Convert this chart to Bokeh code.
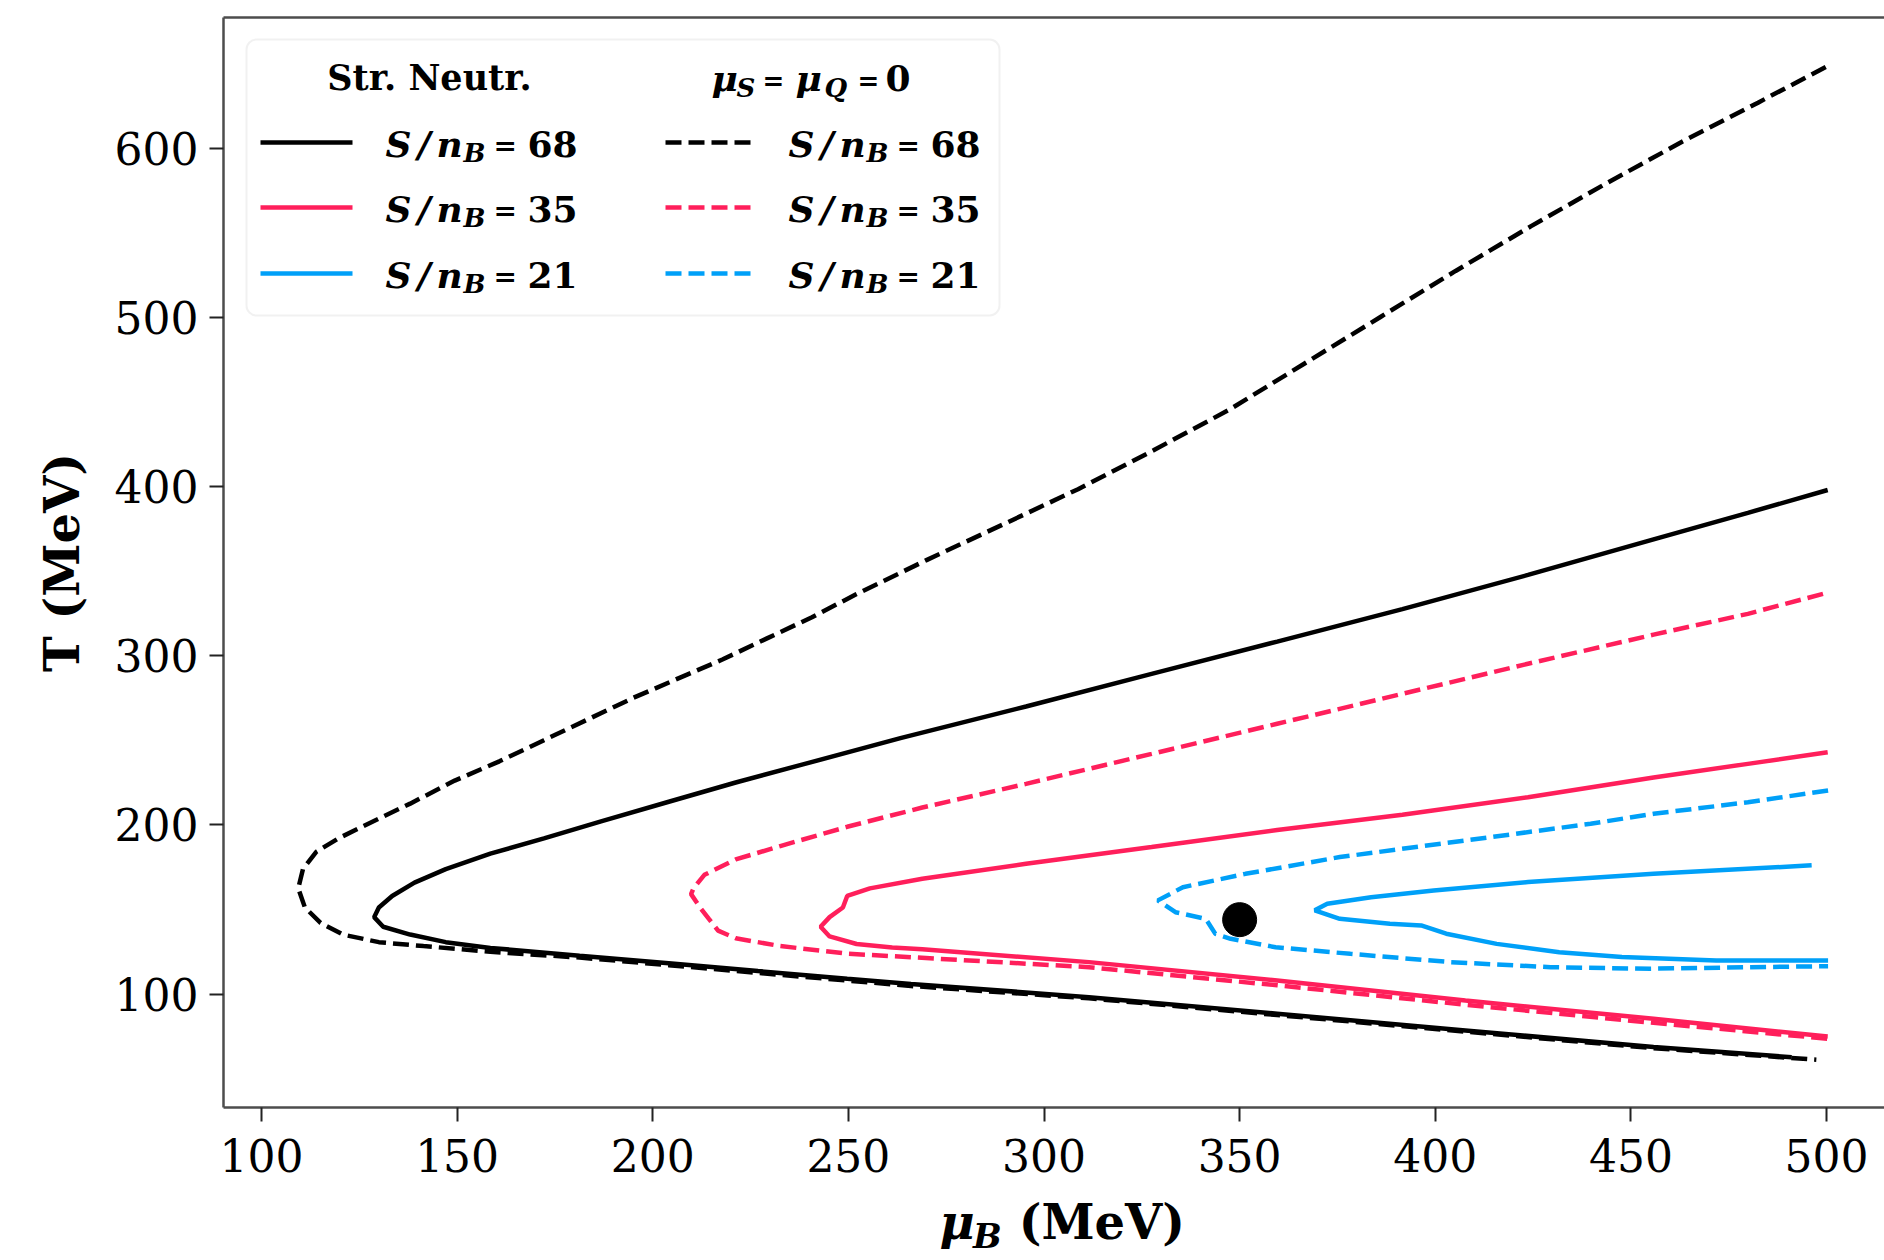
from bokeh.plotting import figure
from bokeh.layouts import column
from bokeh.models import Range1d, LinearAxis, FixedTicker, Label, Arrow, BoxAnnotation
from bokeh.embed import file_html
from bokeh.resources import INLINE

# ---------------- data ----------------
X_TICKS = [100, 150, 200, 250, 300, 350, 400, 450, 500]
Y_TICKS = [100, 200, 300, 400, 500, 600]

# Strangeness neutrality, S/nB = 68 (black solid)
sn68_mu = [500.3, 479.9, 455.8, 423.7, 391.6, 359.6, 327.5, 295.4, 263.3, 238.4, 221.2,
           204.1, 187.0, 172.2, 158.5, 147.1, 139.1, 133.4, 130.0, 128.8, 131.1, 138.0,
           147.1, 158.5, 181.3, 204.1, 226.9, 249.7, 266.0, 311.5, 359.6, 407.7, 455.8, 491.1]
sn68_T = [398.0, 384.5, 368.8, 347.8, 327.6, 308.4, 289.3, 270.0, 251.3, 235.8, 225.1,
          213.7, 202.3, 192.1, 183.0, 173.9, 165.9, 158.0, 151.2, 145.5, 139.8, 135.2,
          130.7, 127.3, 122.7, 118.2, 113.6, 109.1, 106.0, 98.2, 88.4, 78.5, 68.7, 62.7]

# muS = muQ = 0, S/nB = 68 (black dashed)
z68_mu = [499.8, 482.5, 463.2, 443.9, 424.5, 405.2, 386.0, 366.6, 347.3, 328.0, 308.7,
          289.4, 270.1, 252.1, 240.7, 229.2, 217.8, 206.4, 195.0, 183.6, 172.2, 160.8,
          149.4, 138.0, 127.7, 119.7, 114.0, 110.6, 109.4, 111.1, 115.1, 120.8, 130.0,
          141.4, 158.5, 181.3, 204.1, 226.9, 249.7, 266.0, 311.5, 359.6, 407.7, 455.8, 497.4]
z68_T = [648.1, 627.0, 604.0, 579.5, 554.0, 527.5, 500.3, 472.8, 445.4, 421.5, 398.5,
         377.5, 356.7, 336.5, 322.8, 310.3, 297.8, 286.5, 275.1, 262.6, 250.1, 237.6,
         226.2, 212.6, 201.2, 192.1, 184.1, 173.9, 162.5, 151.2, 142.1, 135.2, 130.7,
         128.4, 125.0, 121.6, 117.1, 112.5, 108.0, 104.8, 97.5, 87.6, 77.8, 68.0, 61.2]

# Strangeness neutrality, S/nB = 35 (red solid)
sn35_mu = [500.3, 479.9, 455.8, 423.7, 391.6, 359.6, 327.5, 295.4, 268.9, 255.5, 249.7,
           248.6, 245.2, 242.9, 245.2, 252.1, 261.2, 268.9, 311.5, 359.6, 407.7, 455.8, 500.3]
sn35_T = [243.0, 236.1, 228.0, 216.4, 206.0, 197.0, 186.9, 177.0, 168.2, 162.5, 158.0,
          151.2, 145.5, 139.8, 134.1, 129.6, 127.6, 126.5, 118.9, 108.0, 96.2, 85.4, 74.9]

# muS = muQ = 0, S/nB = 35 (red dashed)
z35_mu = [499.1, 479.9, 455.8, 423.7, 391.6, 359.6, 327.5, 295.4, 268.9, 249.7, 232.6,
          221.2, 213.2, 210.4, 209.8, 212.1, 214.4, 216.7, 221.2, 232.6, 249.7, 266.0,
          311.5, 359.6, 407.7, 455.8, 500.3]
z35_T = [336.6, 324.8, 312.5, 295.3, 277.5, 259.8, 242.0, 224.3, 210.3, 198.9, 187.5,
         179.6, 170.5, 162.5, 159.1, 151.2, 144.3, 137.5, 133.0, 128.4, 123.9, 121.8,
         115.9, 105.2, 93.7, 83.0, 73.6]

# Strangeness neutrality, S/nB = 21 (blue solid)
sn21_mu = [496.2, 455.8, 423.7, 399.6, 383.6, 372.4, 369.2, 375.6, 388.4, 396.4, 402.8,
           415.7, 431.7, 447.7, 471.8, 500.4]
sn21_T = [176.1, 171.1, 166.2, 161.3, 157.3, 153.4, 149.5, 144.5, 141.6, 140.6, 135.7,
          129.7, 124.8, 121.9, 119.9, 119.9]

# muS = muQ = 0, S/nB = 21 (blue dashed)
z21_mu = [500.4, 479.9, 455.8, 439.7, 407.7, 375.6, 351.5, 335.5, 329.1, 333.6, 341.3,
          341.9, 343.8, 347.7, 359.2, 378.3, 403.9, 429.5, 455.0, 480.6, 500.4]
z21_T = [220.4, 213.4, 206.6, 200.7, 190.8, 181.0, 171.1, 163.2, 155.4, 148.4, 144.5,
         142.5, 135.6, 132.7, 127.7, 123.8, 118.9, 115.9, 115.0, 115.9, 116.5]

# marked point
dot_mu = [350.0]
dot_T = [144.0]

SERIES_VALUES = ["68", "35", "21"]
SERIES_COLORS = ["#000000", "#FF1F5B", "#00A0F8"]

# ---------------- layout constants (page pixels) ----------------
FONT = "DejaVu Serif"
W = 1884
H_MAIN = 1192
H_TITLE = 68
FL, FR, FT, FB = 223, 1884, 17, 1107   # frame edges on the page
X0, X1 = 90.29, 514.82
Y0, Y1 = 32.96, 677.33


def dx(X):
    return X0 + (X - FL) / (FR - FL) * (X1 - X0)


def dy(Y):
    return Y1 - (Y - FT) / (FB - FT) * (Y1 - Y0)


p = figure(width=W, height=H_MAIN, output_backend="svg", toolbar_location=None,
           x_range=Range1d(X0, X1), y_range=Range1d(Y0, Y1),
           min_border_left=FL, min_border_right=0, min_border_top=FT,
           min_border_bottom=H_MAIN - FB)
p.xgrid.visible = False
p.ygrid.visible = False
p.outline_line_color = None
p.background_fill_color = "white"
p.border_fill_color = "white"

SPINE = "#4d4d4d"
for ax in (p.xaxis[0], p.yaxis[0]):
    ax.axis_line_color = SPINE
    ax.axis_line_width = 2.5
    ax.major_tick_out = 14
    ax.major_tick_in = 0
    ax.minor_tick_out = 0
    ax.minor_tick_in = 0
    ax.major_tick_line_width = 2
    ax.major_tick_line_color = "#222222"
    ax.major_label_text_font = FONT
    ax.major_label_text_font_size = "44px"
    ax.major_label_text_color = "black"

p.xaxis.ticker = FixedTicker(ticks=X_TICKS)
p.yaxis.ticker = FixedTicker(ticks=Y_TICKS)
p.xaxis.major_label_standoff = 17
p.yaxis.major_label_standoff = 11

p.yaxis.axis_label = "T (MeV)"
p.yaxis.axis_label_text_font = FONT
p.yaxis.axis_label_text_font_size = "48px"
p.yaxis.axis_label_text_font_style = "bold"
p.yaxis.axis_label_text_color = "black"
p.yaxis.axis_label_standoff = 22

top = LinearAxis(ticker=FixedTicker(ticks=[]), major_label_text_font_size="0px",
                 major_tick_out=0, major_tick_in=0, minor_tick_out=0, minor_tick_in=0,
                 axis_line_color=SPINE, axis_line_width=2.5)
p.add_layout(top, "above")

# ---------------- curves ----------------
LW = 4.5
DASH = "16 7"
p.line(z68_mu, z68_T, line_color=SERIES_COLORS[0], line_width=LW, line_dash=DASH)
p.line(sn68_mu, sn68_T, line_color=SERIES_COLORS[0], line_width=LW)
p.line(z35_mu, z35_T, line_color=SERIES_COLORS[1], line_width=LW, line_dash=DASH)
p.line(sn35_mu, sn35_T, line_color=SERIES_COLORS[1], line_width=LW)
p.line(z21_mu, z21_T, line_color=SERIES_COLORS[2], line_width=LW, line_dash=DASH)
p.line(sn21_mu, sn21_T, line_color=SERIES_COLORS[2], line_width=LW)
p.scatter(dot_mu, dot_T, size=34, color="black")


# ---------------- legend (inside the frame) ----------------
def txt(X, Y, text, size, style="bold italic", align="left"):
    p.add_layout(Label(x=dx(X), y=dy(Y), text=text, text_font=FONT,
                       text_font_size=f"{size}px", text_font_style=style,
                       text_align=align, text_baseline="middle",
                       text_color="black"))


p.add_layout(BoxAnnotation(left=dx(246), right=dx(999), top=dy(39), bottom=dy(315),
                           fill_color="white", fill_alpha=0.85,
                           line_color="#d2d2d2", line_width=2, border_radius=10))

txt(429, 77, "Str. Neutr.", 35, "bold", "center")
txt(711, 77, "μ", 36)
txt(736, 87, "S", 26)
txt(762, 80, "=", 26, "bold")
txt(795, 77, "μ", 36)
txt(824, 87, "Q", 26)
txt(857, 80, "=", 26, "bold")
txt(885, 77, "0", 36, "bold")

ROW_Y = [142, 207, 273]
COLS = [(260, 352, 385, None), (665, 754, 788, DASH)]
for i, val in enumerate(SERIES_VALUES):
    yc = ROW_Y[i]
    for (sx0, sx1, tx, dash) in COLS:
        kw = dict(line_color=SERIES_COLORS[i], line_width=LW, end=None,
                  x_start=dx(sx0), y_start=dy(yc), x_end=dx(sx1), y_end=dy(yc))
        if dash:
            kw["line_dash"] = dash
        p.add_layout(Arrow(**kw))
        txt(tx, yc + 1, "S", 36)
        txt(tx + 32, yc + 1, "/", 36)
        txt(tx + 51, yc + 1, "n", 36)
        txt(tx + 78, yc + 10, "B", 26)
        txt(tx + 108, yc + 3, "=", 28, "bold")
        txt(tx + 142, yc + 1, val, 36, "bold")

# ---------------- x-axis title strip: mu_B (MeV) ----------------
t = figure(width=W, height=H_TITLE, output_backend="svg", toolbar_location=None,
           x_range=Range1d(0, W), y_range=Range1d(0, H_TITLE),
           x_axis_location=None, y_axis_location=None,
           min_border=0, min_border_left=0, min_border_right=0,
           min_border_top=0, min_border_bottom=0)
t.xgrid.visible = False
t.ygrid.visible = False
t.outline_line_color = None
t.background_fill_color = "white"
t.border_fill_color = "white"

PAGE_BOTTOM = H_MAIN + H_TITLE
SHIFT_X = -112   # measured offset of this strip's label placement


def ttxt(X, Y, text, size, style):
    t.add_layout(Label(x=X + SHIFT_X, y=PAGE_BOTTOM - Y, text=text, text_font=FONT,
                       text_font_size=f"{size}px", text_font_style=style,
                       text_align="left", text_baseline="middle", text_color="black"))


ttxt(924, 1221, "μ", 48, "bold italic")
ttxt(962, 1235, "B", 34, "bold italic")
ttxt(1014, 1221, "(MeV)", 48, "bold")

layout = column(p, t, spacing=0)
open("out.html", "w").write(file_html(layout, INLINE))
